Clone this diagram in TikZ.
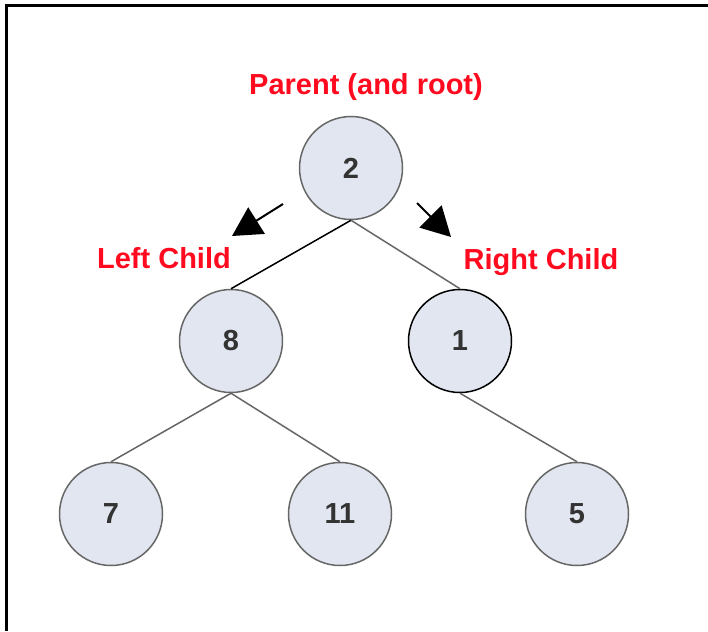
\documentclass[tikz,border=0pt]{standalone}
\usepackage{fontspec}
\setmainfont{Liberation Sans}
\usetikzlibrary{arrows.meta}
\definecolor{nodefill}{HTML}{E1E6F0}
\definecolor{nodeline}{HTML}{666666}
\definecolor{digit}{HTML}{333333}
\definecolor{lblred}{HTML}{FF0A1E}
\tikzset{
  tnode/.style={circle, minimum size=103pt, inner sep=0pt, fill=nodefill, draw=nodeline, line width=1.5pt, font=\fontsize{29}{32}\selectfont\bfseries, text=digit},
  tedge/.style={draw=nodeline, line width=1.5pt},
  lbl/.style={font=\fontsize{29}{32}\selectfont\bfseries, text=lblred, anchor=base, inner sep=0pt},
  bigarrow/.style={line width=2pt, -{Triangle[length=29pt, width=31pt]}},
  frame/.style={line width=3pt, black}
}
\begin{document}
\begin{tikzpicture}[x=1pt, y=-1pt]
\useasboundingbox (0,0) rectangle (708,631);
\coordinate (fa) at (6,631);
\coordinate (fb) at (6,6);
\coordinate (fc) at (708,6);
\draw[frame] (fa) -- (fb) -- (fc);

\node[tnode] (n2) at (351,168) {2};
\node[tnode] (n8) at (231,341) {8};
\node[tnode, draw=black] (n1) at (460,341) {1};
\node[tnode] (n7) at (111,514) {7};
\node[tnode] (n11) at (340,514) {11};
\node[tnode] (n5) at (577,514) {5};

\draw[tedge, draw=black] (n2.south) -- (n8.north);
\draw[tedge] (n2.south) -- (n1.north);
\draw[tedge] (n8.south) -- (n7.north);
\draw[tedge] (n8.south) -- (n11.north);
\draw[tedge] (n1.south) -- (n5.north);

\node[lbl] (lp) at (366,95) {Parent (and root)};
\node[lbl] (ll) at (164,268) {Left Child};
\node[lbl] (lr) at (541,269) {Right Child};

\coordinate (la) at (283,204);
\coordinate (lb) at (232,236);
\coordinate (ra) at (417,203);
\coordinate (rb) at (451,237);
\draw[bigarrow] (la) -- (lb);
\draw[bigarrow] (ra) -- (rb);
\end{tikzpicture}
\end{document}
